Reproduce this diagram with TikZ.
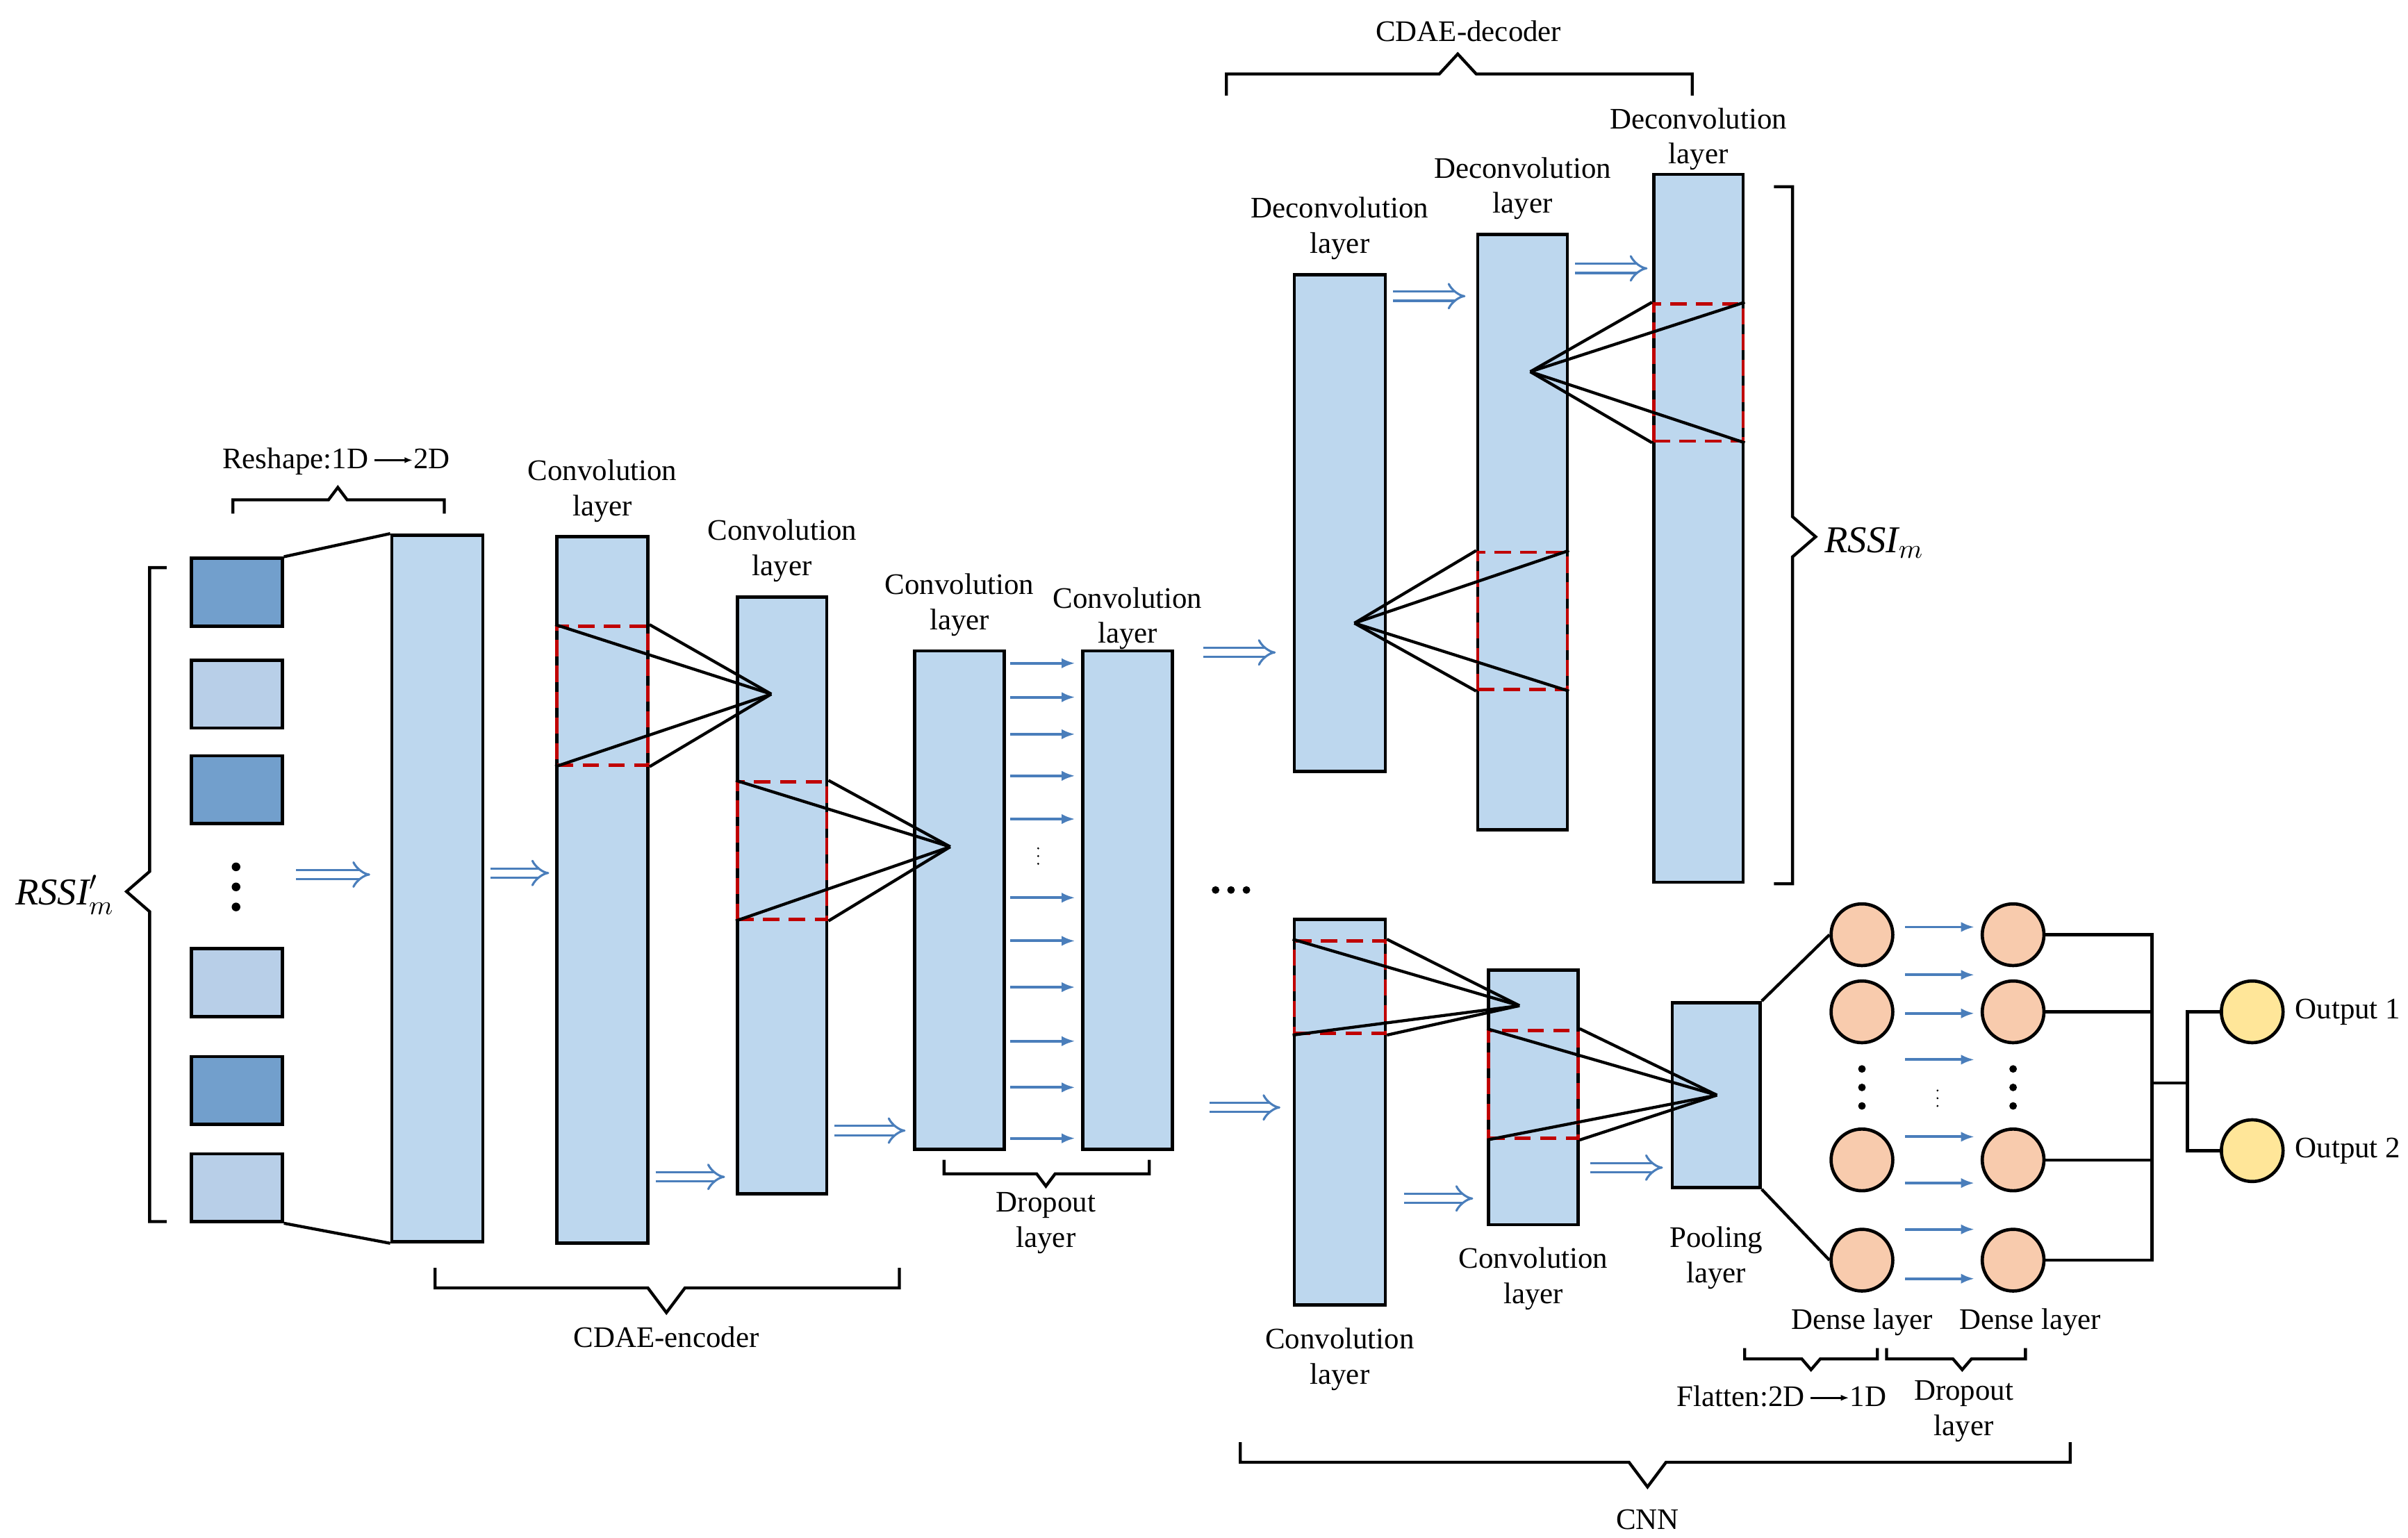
\documentclass[tikz,border=0pt]{standalone}
\usepackage{fontspec}
\setmainfont{Liberation Serif}
\usetikzlibrary{arrows.meta, positioning, fit}
\definecolor{barblue}{HTML}{BDD7EE}
\definecolor{darksq}{HTML}{729FCC}
\definecolor{lightsq}{HTML}{B8CFE8}
\definecolor{arrowblue}{HTML}{4A7EBB}
\definecolor{neuron}{HTML}{F8CBAD}
\definecolor{outneuron}{HTML}{FFE699}
\definecolor{winred}{HTML}{C00000}
\newcommand{\smallarrow}{\,\tikz[baseline=-0.6ex]\draw[line width=0.7pt, -{Latex[length=3pt]}] (0,0) -- (0.5cm,0);}

\begin{document}
\begin{tikzpicture}[
    x=0.02cm, y=-0.02cm,
    line width=1.1pt,
    bar/.style={draw, line width=1.2pt, fill=barblue, inner sep=0pt},
    sq/.style={draw, line width=1.2pt, inner sep=0pt},
    win/.style={draw=winred, line width=1.2pt, dash pattern=on 6pt off 3.5pt, inner sep=0pt},
    lbl/.style={font=\fontsize{11}{13}\selectfont, align=center},
    hollow/.style={draw=arrowblue, double=white, double distance=2.6pt, line width=0.8pt, -{Implies}},
    thin arrow/.style={draw=arrowblue, line width=1pt, -{Latex[length=5pt]}},
    neur/.style={circle, draw, line width=1.2pt, fill=neuron, minimum size=0.8cm, inner sep=0pt},
    outn/.style={circle, draw, line width=1.2pt, fill=outneuron, minimum size=0.8cm, inner sep=0pt},
    brc/.style={line width=1.1pt}
]
    \useasboundingbox (0,0) rectangle (1561,997);

    % Input squares
    \node[sq, fill=darksq,  fit={(124,362)(183,406)}] (s1) {};
    \node[sq, fill=lightsq, fit={(124,428)(183,472)}] (s2) {};
    \node[sq, fill=darksq,  fit={(124,490)(183,534)}] (s3) {};
    \node[sq, fill=lightsq, fit={(124,615)(183,659)}] (s4) {};
    \node[sq, fill=darksq,  fit={(124,685)(183,729)}] (s5) {};
    \node[sq, fill=lightsq, fit={(124,748)(183,792)}] (s6) {};
    \foreach \y in {562,575,588} \fill (153,\y) circle (1.6pt);
    \draw[brc] (108,368) -- (97,368) -- (97,565) -- (82,578) -- (97,591) -- (97,792) -- (108,792);
    \node[lbl, font=\fontsize{14}{16}\selectfont] (rssiin) at (42,580) {$\mathit{RSSI}'_m$};

    % Encoder
    \node[bar, fit={(254,347)(313,805)}] (resh) {};
    \draw (s1.north east) -- (resh.north west);
    \draw (s6.south east) -- (resh.south west);
    \draw[brc] (151,333) -- (151,324) -- (213,324) -- (219,316) -- (225,324) -- (288,324) -- (288,333);
    \node[lbl] (reshl) at (218,299) {Reshape:1D\smallarrow2D};

    \node[bar, fit={(361,348)(420,806)}] (conv1) {};
    \node[lbl, above=1pt of conv1] {Convolution\\layer};
    \node[bar, fit={(478,387)(536,774)}] (conv2) {};
    \node[lbl, above=1pt of conv2] {Convolution\\layer};
    \node[bar, fit={(593,422)(651,745)}] (conv3) {};
    \node[lbl, above=1pt of conv3] {Convolution\\layer};
    \node[bar, fit={(702,422)(760,745)}] (conv4) {};
    \node[lbl, above=1pt of conv4, yshift=-5pt] {Convolution\\layer};

    \node[win, fit={(361,406)(420,496)}] (w1) {};
    \coordinate (t1) at (500,450);
    \foreach \a in {north west, south west, north east, south east} \draw (w1.\a) -- (t1);
    \node[win, fit={(478,507)(536,596)}] (w2) {};
    \coordinate (t2) at (616,549);
    \foreach \a in {north west, south west, north east, south east} \draw (w2.\a) -- (t2);

    \draw[hollow] (192,567) -- (240,567);
    \draw[hollow] (318,566) -- (356,566);
    \draw[hollow] (425,763) -- (470,763);
    \draw[hollow] (541,733) -- (587,733);
    \foreach \y in {430,452,476,503,531,582,610,640,675,705,738}
        \draw[thin arrow] (655,\y) -- (697,\y);
    \foreach \y in {550,555,560} \fill (673,\y) circle (0.4pt);

    \draw[brc] (612,752) -- (612,761) -- (672,761) -- (678,769) -- (684,761) -- (745,761) -- (745,752);
    \node[lbl] at (678,793) {Dropout\\layer};
    \draw[brc] (282,822) -- (282,835) -- (420,835) -- (432,851) -- (444,835) -- (583,835) -- (583,822);
    \node[lbl] at (432,867) {CDAE-encoder};

    \draw[hollow] (780,423) -- (827,423);
    \draw[hollow] (784,718) -- (830,718);
    \foreach \x in {788,798,808} \fill (\x,577) circle (1.4pt);

    % Decoder
    \node[bar, fit={(839,178)(898,500)}] (dec1) {};
    \node[lbl, above=1pt of dec1] {Deconvolution\\layer};
    \node[bar, fit={(958,152)(1016,538)}] (dec2) {};
    \node[lbl, above=1pt of dec2] {Deconvolution\\layer};
    \node[bar, fit={(1072,113)(1130,572)}] (dec3) {};
    \node[lbl, above=-3pt of dec3] {Deconvolution\\layer};
    \draw[hollow] (903,192) -- (950,192);
    \draw[hollow] (1021,174) -- (1068,174);
    \node[win, fit={(958,358)(1016,447)}] (w3) {};
    \coordinate (t3) at (878,404);
    \foreach \a in {north west, south west, north east, south east} \draw (w3.\a) -- (t3);
    \node[win, fit={(1072,197)(1130,286)}] (w4) {};
    \coordinate (t4) at (992,241);
    \foreach \a in {north west, south west, north east, south east} \draw (w4.\a) -- (t4);
    \draw[brc] (795,62) -- (795,48) -- (933,48) -- (945,35) -- (957,48) -- (1097,48) -- (1097,62);
    \node[lbl] at (952,20) {CDAE-decoder};
    \draw[brc] (1150,121) -- (1162,121) -- (1162,335) -- (1177,348) -- (1162,361) -- (1162,573) -- (1150,573);
    \node[lbl, font=\fontsize{14}{16}\selectfont] (rssiout) at (1215,352) {$\mathit{RSSI}_m$};

    % CNN
    \node[bar, fit={(839,596)(898,846)}] (cnn1) {};
    \node[lbl, below=4pt of cnn1] {Convolution\\layer};
    \node[bar, fit={(965,629)(1023,794)}] (cnn2) {};
    \node[lbl, below=4pt of cnn2] {Convolution\\layer};
    \node[bar, fit={(1084,650)(1141,770)}] (pool) {};
    \node[lbl, below=10pt of pool] {Pooling\\layer};
    \node[win, fit={(839,610)(898,670)}] (w5) {};
    \coordinate (t5) at (985,652);
    \foreach \a in {north west, south west, north east, south east} \draw (w5.\a) -- (t5);
    \node[win, fit={(965,668)(1023,738)}] (w6) {};
    \coordinate (t6) at (1113,710);
    \foreach \a in {north west, south west, north east, south east} \draw (w6.\a) -- (t6);
    \draw[hollow] (910,777) -- (955,777);
    \draw[hollow] (1031,757) -- (1078,757);

    % Dense layers
    \foreach \n/\y in {1/606,2/656,3/752,4/817} {
        \node[neur] (da\n) at (1207,\y) {};
        \node[neur] (db\n) at (1305,\y) {};
    }
    \foreach \y in {693,705,717} { \fill (1207,\y) circle (1.4pt); \fill (1305,\y) circle (1.4pt); }
    \foreach \y in {707,712,717} \fill (1256,\y) circle (0.4pt);
    \foreach \y in {601,632,657,687,737,767,797,829}
        \draw[thin arrow] (1235,\y) -- (1280,\y);
    \draw (pool.north east) -- (da1.west);
    \draw (pool.south east) -- (da4.west);
    \coordinate (bus) at (1395,702);
    \foreach \n in {1,2,3,4} \draw (db\n.east) -| (bus);
    \node[outn] (o1) at (1460,656) {};
    \node[outn] (o2) at (1460,746) {};
    \node[lbl, right=0pt of o1] {Output 1};
    \node[lbl, right=0pt of o2] {Output 2};
    \draw (bus) -- (1418,702) |- (o1.west);
    \draw (1418,702) |- (o2.west);

    \node[lbl] at (1207,857) {Dense layer};
    \node[lbl] at (1316,857) {Dense layer};
    \draw[brc] (1131,874) -- (1131,881) -- (1168,881) -- (1174,888) -- (1180,881) -- (1217,881) -- (1217,874);
    \draw[brc] (1223,874) -- (1223,881) -- (1266,881) -- (1272,888) -- (1278,881) -- (1313,881) -- (1313,874);
    \node[lbl] at (1155,905) {Flatten:2D\smallarrow1D};
    \node[lbl] at (1273,915) {Dropout\\layer};
    \draw[brc] (804,935) -- (804,948) -- (1056,948) -- (1068,964) -- (1080,948) -- (1342,948) -- (1342,935);
    \node[lbl] at (1068,985) {CNN};
\end{tikzpicture}
\end{document}
